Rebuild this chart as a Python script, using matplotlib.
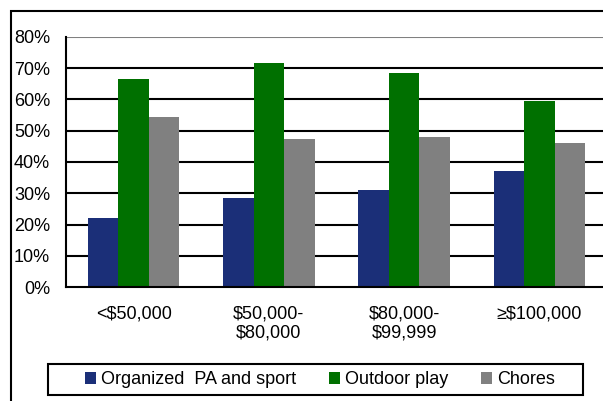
import numpy as np
import matplotlib
matplotlib.use("Agg")
import matplotlib.pyplot as plt
from matplotlib.patches import Rectangle

plt.rcParams['font.family'] = ['Liberation Sans', 'DejaVu Sans']

categories = ['<$50,000', '$50,000-\n$80,000', '$80,000-\n$99,999', '\u2265$100,000']
series_names = ['Organized  PA and sport', 'Outdoor play', 'Chores']
organized = [22.1, 28.5, 31.0, 37.1]
outdoor = [66.6, 71.7, 68.5, 59.5]
chores = [54.4, 47.4, 48.0, 46.1]
colors = ['#1b2f78', '#007000', '#808080']
yticks = [0, 10, 20, 30, 40, 50, 60, 70, 80]

W, H = 603, 401
fig = plt.figure(figsize=(W / 100, H / 100), dpi=100)

# outer chart frame (cut off on right and bottom)
fig.patches.append(Rectangle((11 / W, -0.05), 1.1, (H - 11) / H + 0.05,
                             transform=fig.transFigure, fill=False,
                             edgecolor='black', linewidth=1.5))

ax = fig.add_axes([66 / W, (H - 287) / H, (607 - 66) / W, (287 - 37) / H])
x = np.arange(len(categories))
bw = 0.225
for i, vals in enumerate([organized, outdoor, chores]):
    ax.bar(x + (i - 1) * bw, vals, bw, color=colors[i], label=series_names[i],
           zorder=3, linewidth=0)

ax.set_xlim(-0.5, len(categories) - 0.5)
ax.set_ylim(0, 80)
ax.set_yticks(yticks)
ax.set_yticklabels([f'{t}%' for t in yticks], fontsize=13)
ax.set_xticks(x)
ax.set_xticklabels(categories, fontsize=13, linespacing=1.2)
ax.tick_params(axis='y', length=0, pad=11.5)
ax.tick_params(axis='x', length=0, pad=13)
for t in yticks[1:-1]:
    ax.axhline(t, color='black', linewidth=1.5, zorder=1)
ax.axhline(80, color='#808080', linewidth=1.5, zorder=1)
for s in ['top', 'right']:
    ax.spines[s].set_visible(False)
ax.spines['left'].set_linewidth(1.5)
ax.spines['bottom'].set_linewidth(1.5)
ax.spines['bottom'].set_zorder(4)

# legend box
fig.patches.append(Rectangle((48 / W, (H - 395) / H), (583 - 48) / W, 31 / H,
                             transform=fig.transFigure, fill=False,
                             edgecolor='black', linewidth=1.5))
leg = fig.legend(loc='center', bbox_to_anchor=(320 / W, (H - 380) / H),
                 ncol=3, fontsize=13, frameon=False,
                 handlelength=0.6, handleheight=0.6,
                 handletextpad=0.25, columnspacing=1.85, borderpad=0,
                 borderaxespad=0)

fig.savefig('out.png', dpi=100)
